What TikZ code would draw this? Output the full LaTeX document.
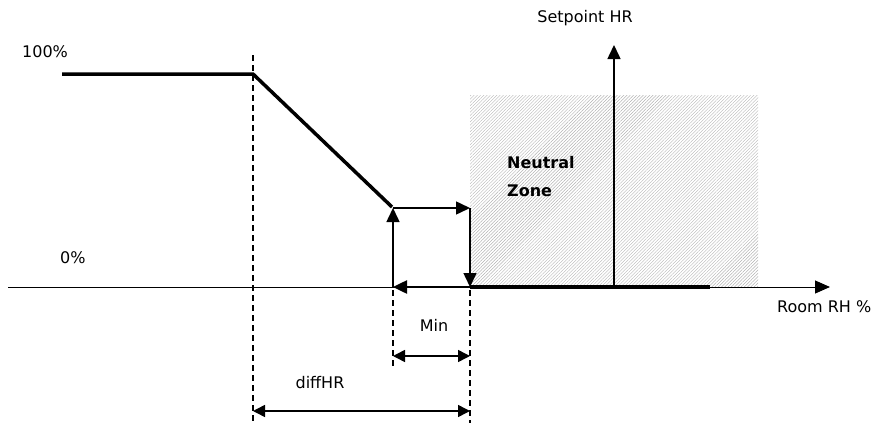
\documentclass[tikz,border=0pt]{standalone}
\usepackage{fontspec}
\setmainfont{DejaVu Sans}
\usetikzlibrary{positioning,arrows.meta,patterns.meta}

\begin{document}
\begin{tikzpicture}[
    x=1pt, y=-1pt,
    lbl/.style={font=\fontsize{16}{18}\selectfont, inner sep=0pt},
    arrow/.style={-{Triangle[length=14pt,width=13pt]}, line width=1.5pt},
    dim/.style={{Triangle[length=12pt,width=12pt]}-{Triangle[length=12pt,width=12pt]}, line width=1.5pt},
    guide/.style={line width=1.2pt, dash pattern=on 6pt off 4pt},
    curve/.style={line width=3.5pt},
    zone/.style={pattern={Lines[angle=45,distance=2.3pt,line width=0.4pt]}, pattern color=gray!60}
]
\useasboundingbox (0,0) rectangle (876,423);

\fill[zone] (470,95) rectangle (758,287);

\coordinate (axL) at (8,287);
\coordinate (axR) at (830,287);
\coordinate (start) at (62,74);
\coordinate (knee) at (253,74);
\coordinate (low) at (392,207);
\coordinate (minB) at (393,287);
\coordinate (minT) at (393,208);
\coordinate (maxT) at (470,208);
\coordinate (maxB) at (470,287);
\coordinate (zoneEnd) at (710,287);
\coordinate (spB) at (614,287);
\coordinate (spT) at (614,45);

\node[lbl, anchor=west] (hundred) at (22,52) {100\%};
\node[lbl, anchor=west] (zero) at (60,258) {0\%};
\node[lbl] (setpoint) at (585,18) {Setpoint HR};
\node[lbl, anchor=west] (room) at (777,307) {Room RH \%};
\node[lbl, font=\fontsize{16}{18}\selectfont\bfseries, anchor=west] (neutral) at (507,163) {Neutral};
\node[lbl, font=\fontsize{16}{18}\selectfont\bfseries, anchor=west] (zonetxt) at (507,191) {Zone};
\node[lbl] (min) at (434,325) {Min};
\node[lbl] (diff) at (320,383) {diffHR};

\draw[line width=1pt, -{Triangle[length=15pt,width=13pt]}] (axL) -- (axR);
\draw[arrow] (spB) -- (spT);

\draw[curve] (start) -- (knee) -- (low);
\draw[curve] (maxB) -- (zoneEnd);

\draw[arrow] (minB) -- (minT);
\draw[arrow] (minT) -- (maxT);
\draw[arrow] (maxT) -- (maxB);
\draw[arrow, line width=2.5pt] (maxB) -- (minB);

\draw[guide] (253,55) -- (253,423);
\draw[guide] (393,290) -- (393,368);
\draw[guide] (470,290) -- (470,423);

\draw[dim] (393,356) -- (470,356);
\draw[dim] (253,411) -- (470,411);

\end{tikzpicture}
\end{document}
